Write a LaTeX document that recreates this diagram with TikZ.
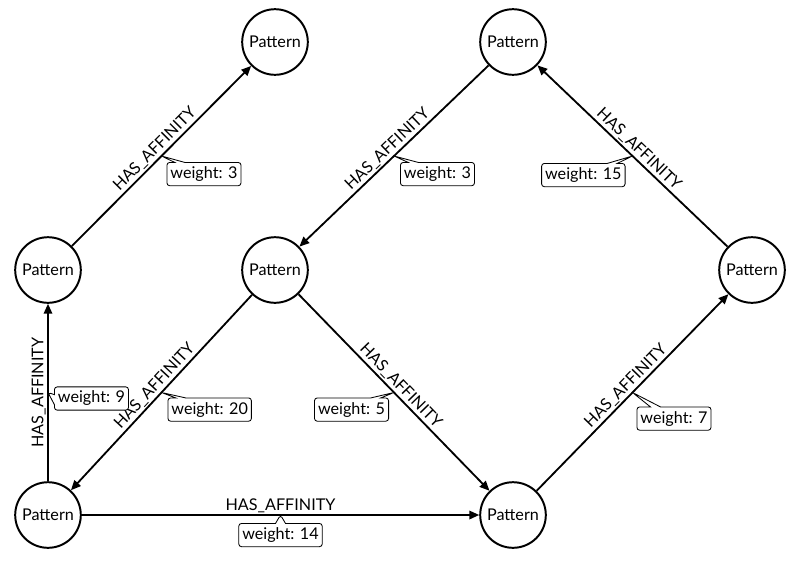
\documentclass[tikz,border=0pt]{standalone}
\usepackage{fontspec}
\setmainfont{Lato}
\usetikzlibrary{shapes.callouts,arrows.meta,calc}

\begin{document}
\begin{tikzpicture}[x=0.025cm, y=-0.025cm, font=\fontsize{11.5}{13}\selectfont]

% Define styles
\tikzstyle{pattern} = [circle, draw=black, line width=1.4pt, minimum size=1.64cm, inner sep=0pt, fill=white]
\tikzstyle{affinity} = [line width=1.3pt, -{Triangle[length=7pt,width=6pt]}]
\tikzstyle{rel} = [sloped, above, inner sep=1pt, midway]
\tikzstyle{weight} = [rectangle callout, draw=black, rounded corners=2pt, fill=white, inner xsep=2.5pt, inner ysep=3pt, line width=0.6pt]

\useasboundingbox (0,0) rectangle (800,567);

% Pattern nodes
\node (p1) [pattern] at (275,42) {Pattern};
\node (p2) [pattern] at (513,42) {Pattern};
\node (p3) [pattern] at (48,270) {Pattern};
\node (p4) [pattern] at (275,270) {Pattern};
\node (p5) [pattern] at (752,270) {Pattern};
\node (p6) [pattern] at (48,515) {Pattern};
\node (p7) [pattern] at (513,515) {Pattern};

% Relationships
\draw [affinity] (p3) -- node[rel] (r1) {HAS\_AFFINITY} coordinate[midway] (m1) (p1);
\draw [affinity] (p2) -- node[rel] (r2) {HAS\_AFFINITY} coordinate[midway] (m2) (p4);
\draw [affinity] (p5) -- node[rel] (r3) {HAS\_AFFINITY} coordinate[midway] (m3) (p2);
\draw [affinity] (p6) -- node[rel] (r4) {HAS\_AFFINITY} coordinate[midway] (m4) (p3);
\draw [affinity] (p4) -- node[rel] (r5) {HAS\_AFFINITY} coordinate[midway] (m5) (p6);
\draw [affinity] (p4) -- node[rel] (r6) {HAS\_AFFINITY} coordinate[midway] (m6) (p7);
\draw [affinity] (p7) -- node[rel] (r7) {HAS\_AFFINITY} coordinate[midway] (m7) (p5);
\draw [affinity] (p6) -- node[rel] (r8) {HAS\_AFFINITY} coordinate[midway] (m8) (p7);

% Weights
\node (w1) [weight, callout absolute pointer={(m1)}, anchor=north west] at ($(m1)+(5,6)$) {weight: 3};
\node (w2) [weight, callout absolute pointer={(m2)}, anchor=north west] at ($(m2)+(6,6)$) {weight: 3};
\node (w3) [weight, callout absolute pointer={(m3)}, anchor=north east] at ($(m3)+(-7,7)$) {weight: 15};
\node (w4) [weight, callout absolute pointer={(m4)}, anchor=west] at ($(m4)+(6,6)$) {weight: 9};
\node (w5) [weight, callout absolute pointer={(m5)}, anchor=north west] at ($(m5)+(6,5)$) {weight: 20};
\node (w6) [weight, callout absolute pointer={(m6)}, anchor=north east] at ($(m6)+(-5,5)$) {weight: 5};
\node (w7) [weight, callout absolute pointer={(m7)}, anchor=north west] at ($(m7)+(4,14)$) {weight: 7};
\node (w8) [weight, callout absolute pointer={(m8)}, anchor=north] at ($(m8)+(0,8)$) {weight: 14};

\end{tikzpicture}
\end{document}
